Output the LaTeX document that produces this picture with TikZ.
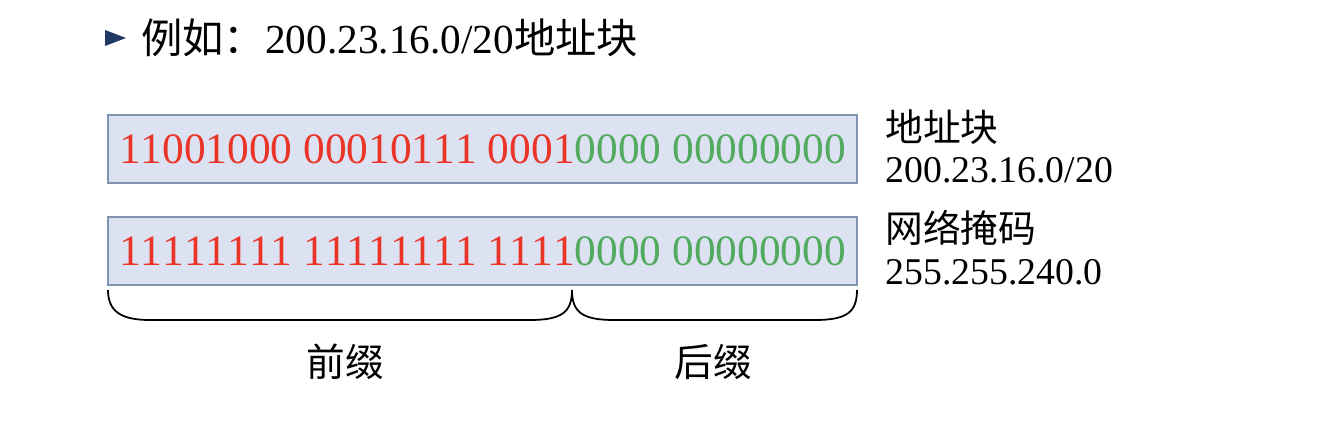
\documentclass[tikz,border=0pt]{standalone}
\usepackage{fontspec}
\setmainfont{Liberation Serif}[Kerning=Off]
\newfontfamily\cjk{Noto Sans CJK SC}
\usetikzlibrary{positioning}

\definecolor{prefixred}{RGB}{234,52,40}
\definecolor{suffixgreen}{RGB}{82,170,94}
\definecolor{boxfill}{RGB}{220,226,241}
\definecolor{boxline}{RGB}{128,148,178}
\definecolor{bulletblue}{RGB}{31,56,100}

\newcommand{\zh}[1]{{\cjk #1}}
\newcommand{\bits}[2]{{\color{prefixred}#1}{\color{suffixgreen}#2}}

\begin{document}
\begin{tikzpicture}[x=0.02cm, y=-0.02cm,
  bitbox/.style={draw=boxline, fill=boxfill, line width=0.8pt,
    minimum width=14.98cm, minimum height=1.36cm, inner sep=0pt,
    font=\fontsize{24.7}{28}\selectfont},
  sidelabel/.style={anchor=west, inner sep=0pt, font=\fontsize{21.5}{24}\selectfont},
  bracelabel/.style={inner sep=0pt, font=\cjk\fontsize{22}{24}\selectfont},
  bracket/.style={line width=1pt, black}]

\useasboundingbox (0,0) rectangle (1322,422);

% --- Title line ---
\fill[bulletblue] (105,30) -- (126,38) -- (105,46) -- cycle;
\node[anchor=west, inner sep=0pt, font=\fontsize{23.5}{26}\selectfont] (title) at (141,38)
  {\zh{例如：}200.23.16.0/20\zh{地址块}};

% --- Address block and mask ---
\node[bitbox] (block) at (482.5,149)
  {\bits{11001000 00010111 0001}{0000 00000000}};
\node[bitbox] (mask) at (482.5,251)
  {\bits{11111111 11111111 1111}{0000 00000000}};

% --- Labels on the right ---
\node[sidelabel] (blockname) at (885,127) {\zh{地址块}};
\node[sidelabel] (blockaddr) at (885,170) {200.23.16.0/20};
\node[sidelabel] (maskname) at (885,228) {\zh{网络掩码}};
\node[sidelabel] (maskaddr) at (885,272) {255.255.240.0};

% --- Prefix / suffix brackets ---
\coordinate (pleft) at (108,290);
\coordinate (split) at (572,290);
\coordinate (pright) at (857,290);
\draw[bracket] (pleft) .. controls (108,312) and (122,320) .. (150,320)
  -- (530,320) .. controls (562,320) and (572,312) .. (split);
\draw[bracket] (split) .. controls (572,312) and (582,320) .. (614,320)
  -- (815,320) .. controls (847,320) and (857,312) .. (pright);

\node[bracelabel] (prefix) at (345,362) {前缀};
\node[bracelabel] (suffix) at (713,362) {后缀};

\end{tikzpicture}
\end{document}
